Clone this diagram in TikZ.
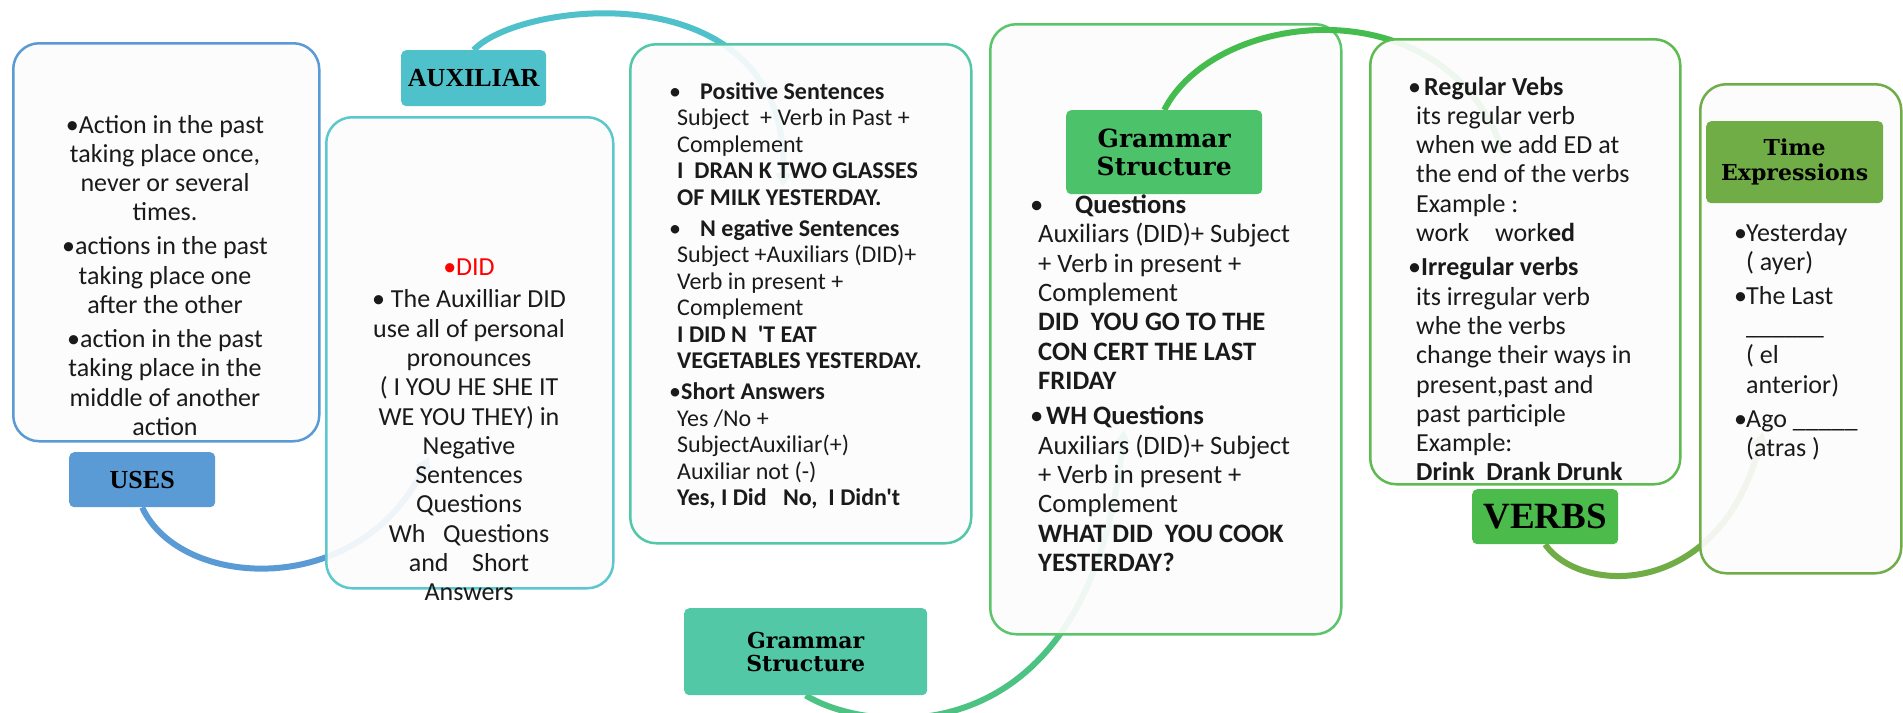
\documentclass[tikz,border=0pt]{standalone}
\usepackage{fontspec}
\newfontfamily\calfont{Carlito}
\newfontfamily\serfont{Liberation Serif}
\newfontfamily\dvfont{DejaVu Serif}
\usetikzlibrary{arrows.meta}
\definecolor{cBlue}{HTML}{5B9BD5}
\definecolor{cTeal}{HTML}{4FC1CB}
\definecolor{cTealB}{HTML}{5CC7CD}
\definecolor{cMint}{HTML}{52C8A6}
\definecolor{cMintArc}{HTML}{4DC383}
\definecolor{cGreen}{HTML}{4CC26B}
\definecolor{cGreenB}{HTML}{5CC56B}
\definecolor{cGreenArc}{HTML}{45BD4E}
\definecolor{cVerb}{HTML}{4BBB4B}
\definecolor{cVerbB}{HTML}{5DBB50}
\definecolor{cOlive}{HTML}{70AD47}
\definecolor{cFill}{HTML}{FCFCFC}
\definecolor{cText}{HTML}{1A1A1A}
\pgfdeclarelayer{bg}
\pgfdeclarelayer{lzero}
\pgfdeclarelayer{lone}
\pgfdeclarelayer{ltwo}
\pgfdeclarelayer{lthree}
\pgfsetlayers{bg,lzero,lone,ltwo,lthree,main}
\newcommand\myfl{\rule{0pt}{20pt}}
\newcommand\mybul[1]{\makebox[#1pt][l]{•}}
\newcommand\myind[1]{\hspace*{#1pt}}
\newcommand\myap{\symbol{39}}
\newcommand\fA{\calfont\fontsize{26}{29.3}\selectfont}
\newcommand\fB{\calfont\fontsize{24}{26.4}\selectfont}
\newcommand\fC{\calfont\fontsize{26.6}{29.4}\selectfont}
\newcommand\fD{\calfont\fontsize{26}{29.3}\selectfont}
\newcommand\fE{\calfont\fontsize{26}{29.6}\selectfont}
\tikzset{
  cbox/.style={draw=#1, line width=2.5pt, rounded corners=26pt, fill=cFill, fill opacity=0.92, inner sep=0pt, anchor=north west},
  lbl/.style={fill=#1, rounded corners=5pt, inner sep=0pt, anchor=north west, align=center, text=black},
  arcline/.style={draw=#1, line width=6pt, -{Triangle[length=14pt,width=16pt]}},
  txt/.style={inner sep=0pt, text=cText}
}
\begin{document}
\begin{tikzpicture}[x=1pt,y=-1pt]
\useasboundingbox (0,0) rectangle (1903,712);
\begin{pgfonlayer}{bg}
\fill[white] (0,0) rectangle (1903,712);
\end{pgfonlayer}

% labels (main layer)
\node[lbl=cBlue, minimum width=146, minimum height=55, font=\serfont\bfseries\fontsize{26}{28}\selectfont] (uses) at (69,452) {USES};
\node[lbl=cTeal, minimum width=145, minimum height=56, font=\serfont\bfseries\fontsize{26}{28}\selectfont] (aux) at (401,50) {AUXILIAR};
\node[lbl=cMint, minimum width=243, minimum height=87, font=\dvfont\bfseries\fontsize{22}{23}\selectfont] (gsa) at (684,608) {Grammar\\Structure};
\node[lbl=cGreen, minimum width=196, minimum height=84, font=\dvfont\bfseries\fontsize{25}{28}\selectfont] (gsb) at (1066,110) {Grammar\\Structure};
\node[lbl=cVerb, minimum width=146, minimum height=55, font=\serfont\bfseries\fontsize{37}{40}\selectfont] (verbs) at (1472,489) {VERBS};
\node[lbl=cOlive, minimum width=177, minimum height=82, font=\dvfont\bfseries\fontsize{22}{25}\selectfont] (te) at (1706,121) {Time\\Expressions};

% arc end points
\coordinate (ea) at (429,457);
\coordinate (eb) at (783,187);
\coordinate (ec) at (1124,430);
\coordinate (ed) at (1505,157);
\coordinate (ee) at (1763,432);

\begin{pgfonlayer}{lzero}
\draw[arcline=cBlue] (uses.south) .. controls (180,590) and (360,600) .. (ea);
\draw[arcline=cTeal] (aux.north) .. controls (520,0) and (790,-30) .. (eb);
\draw[arcline=cMintArc] (gsa.south) .. controls (870,735) and (1090,760) .. (ec);
\draw[arcline=cOlive] (verbs.south) .. controls (1580,595) and (1720,600) .. (ee);
\end{pgfonlayer}

\begin{pgfonlayer}{lone}
\node[cbox=cBlue, minimum width=306, minimum height=398] (ba) at (12,42) {};
\node[cbox=cTealB, minimum width=287, minimum height=471] (bb) at (325,116) {};
\node[cbox=cMint, minimum width=341, minimum height=499] (bc) at (629,43) {};
\node[cbox=cGreenB, minimum width=351, minimum height=610] (bd) at (989,23) {};
\end{pgfonlayer}

\begin{pgfonlayer}{ltwo}
\draw[arcline=cGreenArc] (gsb.north) .. controls (1215,10) and (1440,-15) .. (ed);
\end{pgfonlayer}

\begin{pgfonlayer}{lthree}
\node[cbox=cVerbB, minimum width=310, minimum height=445] (be) at (1369,38) {};
\node[cbox=cOlive, minimum width=201, minimum height=489] (bf) at (1699,83) {};
\end{pgfonlayer}

% texts
\node[txt, align=center, anchor=north, font=\fA] (ta) at (165,112.8) {\myfl•Action in the past\\taking place once,\\never or several\\times.\\[4.7pt]•actions in the past\\taking place one\\after the other\\[4.7pt]•action in the past\\taking place in the\\middle of another\\action};

\node[txt, align=center, anchor=north, font=\fA] (tb) at (469,254.8) {\myfl\textcolor{red}{•DID}\\[3.5pt]• The Auxilliar DID\\use all of personal\\pronounces\\( I YOU HE SHE IT\\WE YOU THEY) in\\Negative\\Sentences\\Questions\\Wh\ \ \ Questions\\and\ \ \ \ Short\\Answers};

\node[txt, align=left, anchor=north west, font=\fB] (tc) at (669,79.2) {\myfl\mybul{31}\textbf{Positive Sentences}\\
\myind{8}Subject\ \ + Verb in Past +\\
\myind{8}Complement\\
\myind{8}\textbf{I\ \ DRAN K TWO GLASSES}\\
\myind{8}\textbf{OF MILK YESTERDAY.}\\[5pt]
\mybul{31}\textbf{N egative Sentences}\\
\myind{8}Subject +Auxiliars (DID)+\\
\myind{8}Verb in present +\\
\myind{8}Complement\\
\myind{8}\textbf{I DID N\ \ \myap T EAT}\\
\myind{8}\textbf{VEGETABLES YESTERDAY.}\\[5pt]
•\textbf{Short Answers}\\
\myind{8}Yes /No +\\
\myind{8}SubjectAuxiliar(+)\\
\myind{8}Auxiliar not (-)\\
\myind{8}\textbf{Yes, I Did\ \ \ No,\ \ I Didn\myap t}};

\node[txt, align=left, anchor=north west, font=\fC] (td) at (1030,193) {\myfl\mybul{45}\textbf{Questions}\\
\myind{8}Auxiliars (DID)+ Subject\\
\myind{8}+ Verb in present +\\
\myind{8}Complement\\
\myind{8}\textbf{DID\ \ YOU GO TO THE}\\
\myind{8}\textbf{CON CERT THE LAST}\\
\myind{8}\textbf{FRIDAY}\\[5.7pt]
\mybul{16}\textbf{WH Questions}\\
\myind{8}Auxiliars (DID)+ Subject\\
\myind{8}+ Verb in present +\\
\myind{8}Complement\\
\myind{8}\textbf{WHAT DID\ \ YOU COOK}\\
\myind{8}\textbf{YESTERDAY?}};

\node[txt, align=left, anchor=north west, font=\fD] (te5) at (1408,74.8) {\myfl\mybul{16}\textbf{Regular Vebs}\\
\myind{8}its regular verb\\
\myind{8}when we add ED at\\
\myind{8}the end of the verbs\\
\myind{8}Example :\\
\myind{8}work\hspace{26pt}work\textbf{ed}\\[5pt]
•\textbf{Irregular verbs}\\
\myind{8}its irregular verb\\
\myind{8}whe the verbs\\
\myind{8}change their ways in\\
\myind{8}present,past and\\
\myind{8}past participle\\
\myind{8}Example:\\
\myind{8}\textbf{Drink\ \ Drank Drunk}};

\node[txt, align=left, anchor=north west, font=\fE] (tf) at (1734,220.8) {\myfl\mybul{12}Yesterday\\
\myind{12}( ayer)\\[4.5pt]
\mybul{12}The Last\\
\myind{12}\_\_\_\_\_\_\\
\myind{12}( el\\
\myind{12}anterior)\\[4pt]
\mybul{12}Ago \_\_\_\_\_\\
\myind{12}(atras )};
\end{tikzpicture}
\end{document}
